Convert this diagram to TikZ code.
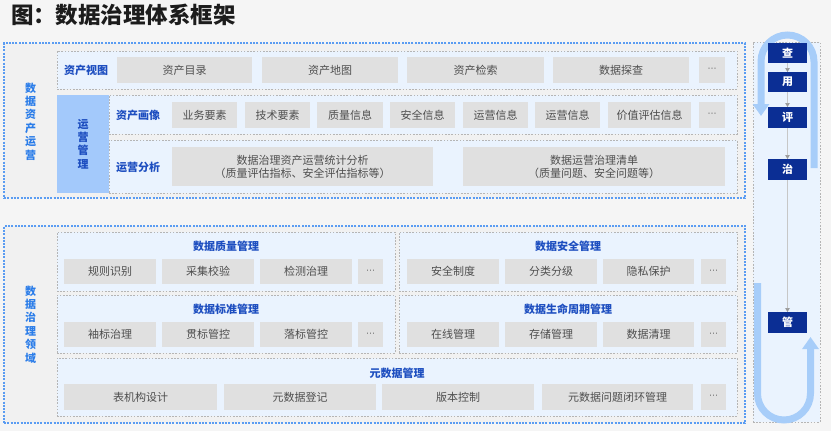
\documentclass[tikz,border=0pt]{standalone}
\usepackage{fontspec}
\setmainfont{Noto Sans CJK SC}
\newfontfamily\dotfont{DejaVu Sans}
\usetikzlibrary{arrows.meta}
\definecolor{pagebg}{HTML}{F5F5F5}
\definecolor{outerfill}{HTML}{F1F1F1}
\definecolor{rowfill}{HTML}{EAF3FE}
\definecolor{itemgray}{HTML}{E0E0E0}
\definecolor{itemtext}{HTML}{4E4E4E}
\definecolor{lblblue}{HTML}{1D4EC0}
\definecolor{outerlbl}{HTML}{2B7DE9}
\definecolor{navy}{HTML}{0B2E94}
\definecolor{bigarrow}{HTML}{A7CDF9}
\definecolor{dashblue}{HTML}{5A9CF2}
\definecolor{blockblue}{HTML}{A3C9FB}
\definecolor{dashgray}{HTML}{B5B5B5}
\definecolor{titletext}{HTML}{1C1C1C}
\definecolor{tipgray}{HTML}{9A9A9A}
\newcommand\bx[7]{\node[#1,minimum width={(#5-#3)*1pt},minimum height={(#6-#4)*1pt}] (#2) at ({(#3+#5)/2},{(#4+#6)/2}) {#7};}
\begin{document}
\begin{tikzpicture}[x=1pt,y=-1pt,
  every node/.style={inner sep=0pt,outer sep=0pt},
  outerbox/.style={draw=dashblue,dash pattern=on 2pt off 1.3pt,line width=1.1pt,fill=outerfill},
  rowbox/.style={draw=dashgray,dash pattern=on 1.6pt off 1.6pt,line width=0.8pt,fill=rowfill},
  rightbox/.style={draw=dashgray,dash pattern=on 1.6pt off 1.6pt,line width=0.8pt,fill=rowfill},
  item/.style={fill=itemgray,text=itemtext,font=\fontsize{11}{13}\selectfont,align=center},
  dots/.style={fill=itemgray,text=itemtext!85,font=\dotfont\fontsize{9}{11}\selectfont},
  lbl/.style={text=lblblue,font=\bfseries\fontsize{11}{13}\selectfont},
  vlbl/.style={text=outerlbl,font=\bfseries\fontsize{11}{13.4}\selectfont,align=center},
  block/.style={fill=blockblue,text=lblblue,font=\bfseries\fontsize{11}{13.3}\selectfont,align=center},
  stage/.style={fill=navy,text=white,font=\bfseries\fontsize{11}{13}\selectfont},
  flow/.style={draw=bigarrow,line width=7pt},
  stepline/.style={draw=black!22,line width=0.7pt,-{Triangle[width=4.5pt,length=4pt,color=tipgray]}}
]
\useasboundingbox (0,0) rectangle (831,431);
\fill[pagebg] (0,0) rectangle (831,431);

\node[anchor=west,text=titletext,font=\bfseries\fontsize{22.5}{25}\selectfont] (title) at (11,15) {图：数据治理体系框架};

% ---------- top outer ----------
\bx{outerbox}{topouter}{4}{43}{745}{198}{}
\node[vlbl] (toplbl) at (30.5,121.5) {数\\据\\资\\产\\运\\营};

\bx{rowbox}{row1}{57}{51}{737}{89}{}
\node[lbl] (l1) at (86,70) {资产视图};
\bx{item}{a1}{117}{57}{252}{83}{资产目录}
\bx{item}{a2}{262}{57}{398}{83}{资产地图}
\bx{item}{a3}{407}{57}{544}{83}{资产检索}
\bx{item}{a4}{553}{57}{689}{83}{数据探查}
\bx{dots}{a5}{699}{57}{725}{83}{⋯}

\bx{rowbox}{row2}{109}{95}{737}{134}{}
\bx{rowbox}{row3}{109}{140}{737}{193}{}
\bx{block}{opm}{57}{95}{109}{193}{运\\营\\管\\理}
\node[lbl] (l2) at (138,115) {资产画像};
\bx{item}{b1}{172}{102}{237}{128}{业务要素}
\bx{item}{b2}{245}{102}{310}{128}{技术要素}
\bx{item}{b3}{317}{102}{383}{128}{质量信息}
\bx{item}{b4}{390}{102}{455}{128}{安全信息}
\bx{item}{b5}{463}{102}{528}{128}{运营信息}
\bx{item}{b6}{535}{102}{600}{128}{运营信息}
\bx{item}{b7}{608}{102}{691}{128}{价值评估信息}
\bx{dots}{b8}{699}{102}{725}{128}{⋯}
\node[lbl] (l3) at (138,167) {运营分析};
\bx{item}{c1}{172}{147}{433}{186}{数据治理资产运营统计分析\\（质量评估指标、安全评估指标等）}
\bx{item}{c2}{463}{147}{725}{186}{数据运营治理清单\\（质量问题、安全问题等）}

% ---------- bottom outer ----------
\bx{outerbox}{botouter}{4}{226}{745}{423}{}
\node[vlbl] (botlbl) at (30.5,324.5) {数\\据\\治\\理\\领\\域};

\bx{rowbox}{q}{57}{232}{395}{291}{}
\node[lbl] (qt) at (226,246) {数据质量管理};
\bx{item}{q1}{64}{259}{156}{284}{规则识别}
\bx{item}{q2}{162}{259}{254}{284}{采集校验}
\bx{item}{q3}{260}{259}{352}{284}{检测治理}
\bx{dots}{q4}{358}{259}{383}{284}{⋯}

\bx{rowbox}{s}{399}{232}{737}{291}{}
\node[lbl] (st) at (568,246) {数据安全管理};
\bx{item}{s1}{407}{259}{499}{284}{安全制度}
\bx{item}{s2}{505}{259}{597}{284}{分类分级}
\bx{item}{s3}{603}{259}{694}{284}{隐私保护}
\bx{dots}{s4}{701}{259}{726}{284}{⋯}

\bx{rowbox}{d}{57}{295}{395}{353}{}
\node[lbl] (dt) at (226,309) {数据标准管理};
\bx{item}{d1}{64}{322}{156}{347}{袖标治理}
\bx{item}{d2}{162}{322}{254}{347}{贯标管控}
\bx{item}{d3}{260}{322}{352}{347}{落标管控}
\bx{dots}{d4}{358}{322}{383}{347}{⋯}

\bx{rowbox}{lc}{399}{295}{737}{353}{}
\node[lbl] (lct) at (568,309) {数据生命周期管理};
\bx{item}{lc1}{407}{322}{499}{347}{在线管理}
\bx{item}{lc2}{505}{322}{597}{347}{存储管理}
\bx{item}{lc3}{603}{322}{694}{347}{数据清理}
\bx{dots}{lc4}{701}{322}{726}{347}{⋯}

\bx{rowbox}{m}{57}{358}{737}{416}{}
\node[lbl] (mt) at (397,373) {元数据管理};
\bx{item}{m1}{64}{384}{217}{410}{表机构设计}
\bx{item}{m2}{224}{384}{376}{410}{元数据登记}
\bx{item}{m3}{382}{384}{534}{410}{版本控制}
\bx{item}{m4}{542}{384}{693}{410}{元数据问题闭环管理}
\bx{dots}{m5}{701}{384}{726}{410}{⋯}

% ---------- right column ----------
\bx{rightbox}{rcol}{753}{42}{820}{422}{}
\coordinate (f1s) at (814,168);
\coordinate (f1e) at (761,116);
\draw[flow,-{Triangle[width=16pt,length=12pt]}] (f1s) -- (814,61.5) arc[start angle=0,end angle=180,radius=26.5pt] -- (f1e);
\coordinate (f2s) at (757.5,283);
\coordinate (f2e) at (810.5,337);
\draw[flow,-{Triangle[width=16pt,length=12pt]}] (f2s) -- (757.5,393.5) arc[start angle=180,end angle=360,radius=26.5pt] -- (f2e);

\bx{stage}{cha}{768}{43}{807}{63}{查}
\bx{stage}{yong}{768}{72}{807}{92}{用}
\bx{stage}{ping}{768}{107}{807}{128}{评}
\bx{stage}{zhi}{768}{159}{807}{180}{治}
\bx{stage}{guan}{768}{312}{807}{333}{管}
\draw[stepline] (cha) -- (yong);
\draw[stepline] (yong) -- (ping);
\draw[stepline] (ping) -- (zhi);
\draw[stepline] (zhi) -- (guan);
\end{tikzpicture}
\end{document}
